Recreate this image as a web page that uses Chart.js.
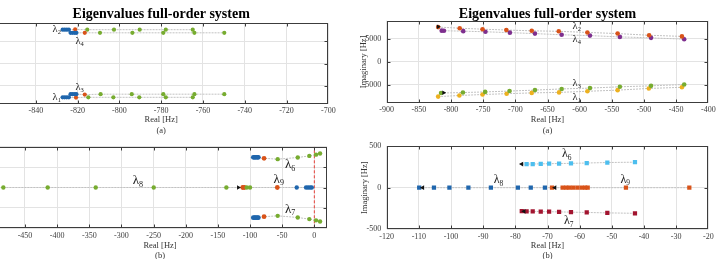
<!DOCTYPE html>
<html><head><meta charset="utf-8">
<script src="https://cdn.jsdelivr.net/npm/chart.js@4/dist/chart.umd.min.js"></script>
<style>
html,body{margin:0;padding:0;background:#fff;width:720px;height:259px;overflow:hidden;position:relative}
canvas{position:absolute}
</style></head><body>
<canvas id="cA" width="390" height="140" style="left:-50px;top:0px"></canvas>
<canvas id="cB" width="380" height="140" style="left:340px;top:0px"></canvas>
<canvas id="cC" width="390" height="130" style="left:-50px;top:135px"></canvas>
<canvas id="cD" width="380" height="130" style="left:340px;top:135px"></canvas>
<script>
// ================= DATA =================
// ---- Panel (a), left: zoom on the high-frequency modes ----
const aXRange = [-860, -700];
const aXTicks = [-840, -820, -800, -780, -760, -740, -720, -700];
const aYRange = [-9000, 9000];
const aYTicks = [-5000, 0, 5000];
// lambda 2 row
const a2BlueRe = [-827.2, -826.2, -825.2, -824.2], a2BlueIm = [7550, 7550, 7550, 7550];
const a2OrangeRe = [-821.2], a2OrangeIm = [7600];
const a2GreenRe = [-815.4, -802.6, -790.3, -777.8, -764.9], a2GreenIm = [7550, 7550, 7550, 7550, 7550];
// lambda 4 row
const a4BlueRe = [-823.4, -822.4, -821.4, -820.6], a4BlueIm = [6850, 6850, 6850, 6850];
const a4OrangeRe = [-816.6], a4OrangeIm = [6850];
const a4GreenRe = [-809.3, -793.8, -779.0, -764.1, -749.8], a4GreenIm = [6850, 6850, 6850, 6850, 6850];
// lambda 3 row
const a3BlueRe = [-823.4, -822.4, -821.4, -820.6], a3BlueIm = [-6850, -6850, -6850, -6850];
const a3OrangeRe = [-816.6], a3OrangeIm = [-6950];
const a3GreenRe = [-809.0, -794.1, -779.0, -764.1, -749.8], a3GreenIm = [-6850, -6850, -6850, -6850, -6850];
// lambda 1 row
const a1BlueRe = [-827.2, -826.2, -825.2, -824.2], a1BlueIm = [-7550, -7550, -7550, -7550];
const a1OrangeRe = [-820.8], a1OrangeIm = [-7600];
const a1GreenRe = [-814.9, -802.9, -790.5, -777.8, -764.9], a1GreenIm = [-7550, -7550, -7550, -7550, -7550];

// ---- Panel (a), right ----
const bXRange = [-900, -400];
const bXTicks = [-900, -850, -800, -750, -700, -650, -600, -550, -500, -450, -400];
const bYRange = [-9000, 9000];
const bYTicks = [-5000, 0, 5000];
const bOrangeRe = [-820, -786.5, -751, -714, -674.5, -632.5, -588, -541, -492, -441];
const bOrangeIm = [7605, 7360, 7145, 6965, 6790, 6680, 6435, 6185, 5815, 5570];
const bPurpleRe = [-814.5, -811, -781, -746.5, -708.5, -669.5, -628, -584, -537.5, -489, -437.5];
const bPurpleIm = [6820, 6800, 6715, 6575, 6390, 6175, 5925, 5740, 5455, 5250, 4955];
const bGreenRe = [-815.5, -781.5, -747, -709, -669.5, -628, -584, -537.5, -489, -437.5];
const bGreenIm = [-6820, -6715, -6575, -6390, -6175, -5925, -5740, -5455, -5250, -4955];
const bYellowRe = [-820, -787, -751, -713.5, -674.5, -632, -588, -541, -492.5, -441];
const bYellowIm = [-7605, -7360, -7145, -6965, -6790, -6680, -6435, -6185, -5815, -5570];
const bBlackRe = [-820, -811.5], bBlackIm = [7650, -6760];

// ---- Panel (b), left ----
const cXRange = [-500, 20];
const cXTicks = [-450, -400, -350, -300, -250, -200, -150, -100, -50, 0];
const cYRange = [-400, 400];
const cYTicks = [-400, -200, 0, 200, 400];
const cMidGreenRe = [-483.7, -414.7, -340.0, -249.8, -136.8, -105.1, -100.0], cMidGreenIm = [0, 0, 0, 0, 0, 0, 0];
const cMidBlackRe = [-118.2], cMidBlackIm = [0];
const cMidOrangeRe = [-111.4, -108.9, -57.6], cMidOrangeIm = [0, 0, 0];
const cMidBlueRe = [-27.4, -12.9, -9.8, -6.7, -4.0], cMidBlueIm = [0, 0, 0, 0, 0];
const cTopBlueRe = [-94.9, -93.0, -91.0, -89.0, -87.1], cTopBlueIm = [296, 296, 296, 296, 296];
const cTopOrangeRe = [-78.2], cTopOrangeIm = [286];
const cTopGreenRe = [-57.0, -25.8, -7.8, 2.6, 8.9], cTopGreenIm = [278, 294, 310, 322, 334];
const cBotBlueRe = [-94.9, -93.0, -91.0, -89.0, -87.1], cBotBlueIm = [-296, -296, -296, -296, -296];
const cBotOrangeRe = [-78.2], cBotOrangeIm = [-286];
const cBotGreenRe = [-57.0, -25.8, -7.8, 2.6, 8.9], cBotGreenIm = [-278, -294, -310, -322, -334];
const cStabRe = [0, 0], cStabIm = [-400, 400];

// ---- Panel (b), right ----
const dXRange = [-120, -20];
const dXTicks = [-120, -110, -100, -90, -80, -70, -60, -50, -40, -30, -20];
const dYRange = [-500, 500];
const dYTicks = [-500, 0, 500];
const dMidBlueRe = [-109.9, -105.3, -100.5, -94.6, -87.6, -79.2, -75.2, -70.8], dMidBlueIm = [0, 0, 0, 0, 0, 0, 0, 0];
const dMidBlackRe = [-108.8, -67.7], dMidBlackIm = [0, 0];
const dMidOrangeRe = [-68.6, -65.3, -64.2, -63.2, -62.0, -60.7, -59.4, -58.3, -57.5, -45.6, -25.9];
const dMidOrangeIm = [0, 0, 0, 0, 0, 0, 0, 0, 0, 0, 0];
const dTopCyanRe = [-76.5, -74.6, -72.1, -69.5, -66.4, -62.7, -57.8, -51.4, -42.8];
const dTopCyanIm = [283, 284, 286, 288, 290, 292, 296, 302, 306];
const dTopBlackRe = [-78.0], dTopBlackIm = [283];
const dBotCrimsonRe = [-78.0, -76.5, -74.6, -72.1, -69.5, -66.4, -62.7, -57.8, -51.4, -42.8];
const dBotCrimsonIm = [-282, -283, -285, -287, -288, -290, -293, -297, -302, -307];
const dBotBlackRe = [-77.3], dBotBlackIm = [-283];

// Eigenvalue labels (subscripts) and where they are written
const aLabelSubs = ['2', '4', '3', '1'];
const bLabelSubs = ['2', '4', '3', '1'];
const cLabelSubs = ['6', '9', '7', '8'];
const dLabelSubs = ['6', '8', '9', '7'];

// ================= STYLE / DRAWING =================
const FONT = "'Liberation Serif','Times New Roman',serif";
Chart.defaults.font.family = FONT;
Chart.defaults.color = '#404040';
const COL = {blue:'#1f66ad', orange:'#D95319', yellow:'#EDB120', purple:'#7E2F8E',
  green:'#77AC30', cyan:'#4DBEEE', crimson:'#A2142F', black:'#111111'};

function pts(re, im) { return re.map((v, i) => ({x: v, y: im[i]})); }
function markers(re, im, color, style, r, rot) {
  return {data: pts(re, im), showLine: false, pointRadius: r, pointHoverRadius: r,
    pointStyle: style, rotation: rot || 0, pointBackgroundColor: color, pointBorderColor: color,
    pointBorderWidth: 0, order: style === 'triangle' ? -1 : 0};
}
function trail(groups) {
  const all = [];
  groups.forEach(([re, im]) => re.forEach((v, i) => all.push({x: v, y: im[i]})));
  all.sort((p, q) => p.x - q.x);
  return {data: all, showLine: true, pointRadius: 0, borderColor: '#c2c2c2', borderWidth: 1,
    borderDash: [2, 1], order: 10};
}

const decor = {
  id: 'decor',
  afterDraw(chart, _args, o) {
    const {ctx, chartArea: a} = chart;
    const xs = chart.scales.x, ys = chart.scales.y;
    ctx.save();
    ctx.strokeStyle = '#3c3c3c';
    ctx.lineWidth = 1;
    const L = Math.round(a.left) + 0.5, R = Math.round(a.right) - 0.5;
    const T = Math.round(a.top) + 0.5, B = Math.round(a.bottom) - 0.5;
    ctx.beginPath();
    xs.ticks.forEach(t => {
      const p = Math.round(xs.getPixelForValue(t.value)) + 0.5;
      if (p > L + 1 && p < R - 1) { ctx.moveTo(p, B); ctx.lineTo(p, B - 3); ctx.moveTo(p, T); ctx.lineTo(p, T + 3); }
    });
    ys.ticks.forEach(t => {
      const p = Math.round(ys.getPixelForValue(t.value)) + 0.5;
      if (p > T + 1 && p < B - 1) { ctx.moveTo(L, p); ctx.lineTo(L + 3, p); ctx.moveTo(R, p); ctx.lineTo(R - 3, p); }
    });
    ctx.stroke();
    ctx.strokeRect(L, T, R - L, B - T);
    if (o.title) {
      ctx.font = 'bold 14px ' + FONT;
      ctx.fillStyle = '#000';
      ctx.textAlign = 'center';
      ctx.textBaseline = 'alphabetic';
      ctx.fillText(o.title, (a.left + a.right) / 2, o.titleY);
    }
    (o.labels || []).forEach((l) => {
      const px = xs.getPixelForValue(l.re), py = ys.getPixelForValue(l.im);
      ctx.fillStyle = '#1a1a1a';
      ctx.font = o.labelSize + 'px ' + FONT;
      ctx.textAlign = 'center';
      ctx.textBaseline = 'middle';
      ctx.fillText('\u03bb', px, py);
      const w = ctx.measureText('\u03bb').width;
      ctx.font = (o.labelSize * 0.62) + 'px ' + FONT;
      ctx.textAlign = 'left';
      ctx.fillText(l.sub, px + w / 2, py + o.labelSize * 0.3);
    });
    ctx.restore();
  }
};

function makeChart(id, g) {
  return new Chart(document.getElementById(id), {
    type: 'scatter',
    data: {datasets: g.datasets},
    plugins: [decor],
    options: {
      responsive: false, animation: false, events: [],
      layout: {padding: {top: g.padT, right: g.padR, bottom: 0, left: 0}},
      plugins: {legend: {display: false}, tooltip: {enabled: false},
        decor: {title: g.title, titleY: g.titleY, labels: g.labels, labelSize: g.labelSize}},
      scales: {
        x: {type: 'linear', position: 'bottom', min: g.xRange[0], max: g.xRange[1],
          afterBuildTicks: s => { s.ticks = g.xTicks.map(v => ({value: v})); },
          ticks: {padding: 2.5, font: {size: 8}, maxRotation: 0, minRotation: 0, autoSkip: false, callback: v => String(v)},
          grid: {color: '#e3e3e3', drawTicks: false}, border: {display: false},
          title: {display: true, text: ['Real [Hz]', g.tag], color: '#333', font: {size: 8.5, lineHeight: 1.21},
            padding: {top: 0, bottom: g.xTitlePad}},
          afterFit: s => { s.height = g.xH; }},
        y: {type: 'linear', position: 'left', min: g.yRange[0], max: g.yRange[1],
          afterBuildTicks: s => { s.ticks = g.yTicks.map(v => ({value: v})); },
          ticks: {padding: 5.5, font: {size: 8}, autoSkip: false, callback: v => String(v)},
          grid: {color: '#e3e3e3', drawTicks: false}, border: {display: false},
          title: {display: true, text: 'Imaginary [Hz]', color: '#333', font: {size: 8.5, lineHeight: 1.21},
            padding: {top: g.yTitlePad, bottom: 0}},
          afterFit: s => { s.width = g.yW; }}
      }
    }
  });
}

// ---- chart (a) left ----
makeChart('cA', {
  xRange: aXRange, xTicks: aXTicks, yRange: aYRange, yTicks: aYTicks,
  padT: 23.2, padR: 11.7, yW: 44.1, xH: 36.2, xTitlePad: 4.4, yTitlePad: 2, tag: '(a)',
  title: 'Eigenvalues full-order system', titleY: 17.5, labelSize: 10.5,
  labels: [
    {sub: aLabelSubs[0], re: -830.8, im: 7637},
    {sub: aLabelSubs[1], re: -819.8, im: 5025},
    {sub: aLabelSubs[2], re: -819.8, im: -5315},
    {sub: aLabelSubs[3], re: -830.8, im: -7481}],
  datasets: [
    trail([[a2BlueRe, a2BlueIm], [a2OrangeRe, a2OrangeIm], [a2GreenRe, a2GreenIm]]),
    trail([[a4BlueRe, a4BlueIm], [a4OrangeRe, a4OrangeIm], [a4GreenRe, a4GreenIm]]),
    trail([[a3BlueRe, a3BlueIm], [a3OrangeRe, a3OrangeIm], [a3GreenRe, a3GreenIm]]),
    trail([[a1BlueRe, a1BlueIm], [a1OrangeRe, a1OrangeIm], [a1GreenRe, a1GreenIm]]),
    markers(a2BlueRe, a2BlueIm, COL.blue, 'circle', 2.1),
    markers(a4BlueRe, a4BlueIm, COL.blue, 'circle', 2.1),
    markers(a3BlueRe, a3BlueIm, COL.blue, 'circle', 2.1),
    markers(a1BlueRe, a1BlueIm, COL.blue, 'circle', 2.1),
    markers(a2OrangeRe, a2OrangeIm, COL.orange, 'circle', 2.1),
    markers(a4OrangeRe, a4OrangeIm, COL.orange, 'circle', 2.1),
    markers(a3OrangeRe, a3OrangeIm, COL.orange, 'circle', 2.1),
    markers(a1OrangeRe, a1OrangeIm, COL.orange, 'circle', 2.1),
    markers(a2GreenRe, a2GreenIm, COL.green, 'circle', 2.1),
    markers(a4GreenRe, a4GreenIm, COL.green, 'circle', 2.1),
    markers(a3GreenRe, a3GreenIm, COL.green, 'circle', 2.1),
    markers(a1GreenRe, a1GreenIm, COL.green, 'circle', 2.1)
  ]
});

// ---- chart (a) right ----
makeChart('cB', {
  xRange: bXRange, xTicks: bXTicks, yRange: bYRange, yTicks: bYTicks,
  padT: 20.7, padR: 11.7, yW: 46.7, xH: 37, xTitlePad: 4.4, yTitlePad: 18.9, tag: '(a)',
  title: 'Eigenvalues full-order system', titleY: 17.5, labelSize: 10.5,
  labels: [
    {sub: bLabelSubs[0], re: -607, im: 7840},
    {sub: bLabelSubs[1], re: -607, im: 4890},
    {sub: bLabelSubs[2], re: -607, im: -4625},
    {sub: bLabelSubs[3], re: -607, im: -7730}],
  datasets: [
    trail([[bOrangeRe, bOrangeIm]]), trail([[bPurpleRe, bPurpleIm]]),
    trail([[bGreenRe, bGreenIm]]), trail([[bYellowRe, bYellowIm]]),
    markers(bOrangeRe, bOrangeIm, COL.orange, 'circle', 2.3),
    markers(bPurpleRe, bPurpleIm, COL.purple, 'circle', 2.3),
    markers(bGreenRe, bGreenIm, COL.green, 'circle', 2.3),
    markers(bYellowRe, bYellowIm, COL.yellow, 'circle', 2.3),
    markers(bBlackRe, bBlackIm, COL.black, 'triangle', 2.6, 90)
  ]
});

// ---- chart (b) left ----
makeChart('cC', {
  xRange: cXRange, xTicks: cXTicks, yRange: cYRange, yTicks: cYTicks,
  padT: 11.7, padR: 12.8, yW: 42.85, xH: 36.7, xTitlePad: 3.9, yTitlePad: 2, tag: '(b)',
  title: null, titleY: 0, labelSize: 13,
  labels: [
    {sub: cLabelSubs[0], re: -40.9, im: 220},
    {sub: cLabelSubs[1], re: -58.5, im: 80},
    {sub: cLabelSubs[2], re: -40.9, im: -214},
    {sub: cLabelSubs[3], re: -277.6, im: 67}],
  datasets: [
    trail([[cMidGreenRe, cMidGreenIm], [cMidBlackRe, cMidBlackIm], [cMidOrangeRe, cMidOrangeIm], [cMidBlueRe, cMidBlueIm]]),
    trail([[cTopBlueRe, cTopBlueIm], [cTopOrangeRe, cTopOrangeIm], [cTopGreenRe, cTopGreenIm]]),
    trail([[cBotBlueRe, cBotBlueIm], [cBotOrangeRe, cBotOrangeIm], [cBotGreenRe, cBotGreenIm]]),
    {data: pts(cStabRe, cStabIm), showLine: true, pointRadius: 0, borderColor: '#e8413a', borderWidth: 1,
      borderDash: [3, 2], order: 5},
    markers(cMidGreenRe, cMidGreenIm, COL.green, 'circle', 2.2),
    markers(cMidOrangeRe, cMidOrangeIm, COL.orange, 'circle', 2.4),
    markers(cMidBlueRe, cMidBlueIm, COL.blue, 'circle', 2.2),
    markers(cTopBlueRe, cTopBlueIm, COL.blue, 'circle', 2.4),
    markers(cTopOrangeRe, cTopOrangeIm, COL.orange, 'circle', 2.4),
    markers(cTopGreenRe, cTopGreenIm, COL.green, 'circle', 2.2),
    markers(cBotBlueRe, cBotBlueIm, COL.blue, 'circle', 2.4),
    markers(cBotOrangeRe, cBotOrangeIm, COL.orange, 'circle', 2.4),
    markers(cBotGreenRe, cBotGreenIm, COL.green, 'circle', 2.2),
    markers(cMidBlackRe, cMidBlackIm, COL.black, 'triangle', 2.6, 90)
  ]
});

// ---- chart (b) right ----
makeChart('cD', {
  xRange: dXRange, xTicks: dXTicks, yRange: dYRange, yTicks: dYTicks,
  padT: 11, padR: 11.7, yW: 46.7, xH: 35.6, xTitlePad: 3.9, yTitlePad: 19.9, tag: '(b)',
  title: null, titleY: 0, labelSize: 12,
  labels: [
    {sub: dLabelSubs[0], re: -64.6, im: 404},
    {sub: dLabelSubs[1], re: -85.8, im: 92},
    {sub: dLabelSubs[2], re: -46.4, im: 100},
    {sub: dLabelSubs[3], re: -64.0, im: -399}],
  datasets: [
    trail([[dMidBlueRe, dMidBlueIm], [dMidBlackRe, dMidBlackIm], [dMidOrangeRe, dMidOrangeIm]]),
    trail([[dTopBlackRe, dTopBlackIm], [dTopCyanRe, dTopCyanIm]]),
    trail([[dBotBlackRe, dBotBlackIm], [dBotCrimsonRe, dBotCrimsonIm]]),
    markers(dMidBlueRe, dMidBlueIm, COL.blue, 'rect', 3),
    markers(dMidOrangeRe, dMidOrangeIm, COL.orange, 'rect', 3),
    markers(dTopCyanRe, dTopCyanIm, COL.cyan, 'rect', 3),
    markers(dBotCrimsonRe, dBotCrimsonIm, COL.crimson, 'rect', 3),
    markers(dMidBlackRe, dMidBlackIm, COL.black, 'triangle', 2.8, -90),
    markers(dTopBlackRe, dTopBlackIm, COL.black, 'triangle', 2.8, -90),
    markers(dBotBlackRe, dBotBlackIm, COL.black, 'triangle', 2.8, -90)
  ]
});
</script>
</body></html>
